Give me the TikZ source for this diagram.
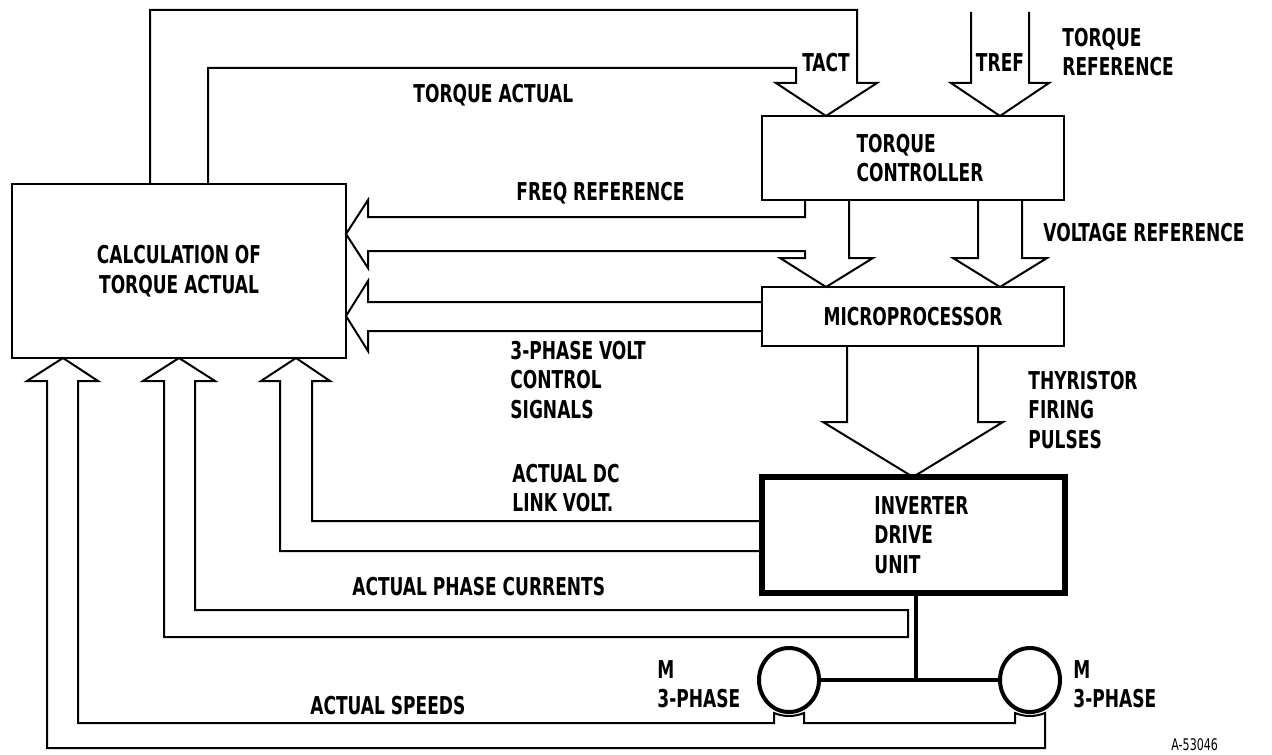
\documentclass[tikz,border=0pt]{standalone}
\usepackage{fontspec}
\setmainfont{DejaVu Sans Condensed}[FakeStretch=0.77]
\usetikzlibrary{shapes.geometric}
\tikzset{
  every picture/.style={line join=miter, x=0.5pt, y=-0.5pt},
  every node/.style={font=\bfseries\fontsize{12.3}{14.8}\selectfont},
  box/.style={draw, line width=1.4pt, inner sep=0pt, outer sep=0pt, align=center, anchor=north west},
  pipe/.style={line width=1pt},
  lbl/.style={anchor=west, align=left, inner sep=0pt},
  motor/.style={draw, ellipse, line width=2pt, inner sep=0pt, outer sep=0pt, minimum width=30pt, minimum height=32pt},
  link/.style={line width=1.6pt},
}

\begin{document}
\begin{tikzpicture}
\useasboundingbox (0,0) rectangle (1272,754);
% blocks
\node[box, minimum width=167pt, minimum height=87pt] (calc) at (12,184) {CALCULATION OF\\TORQUE ACTUAL};
\node[box, minimum width=151pt, minimum height=42pt, align=left] (torq) at (762,116) {\hspace*{7pt}TORQUE\\\hspace*{7pt}CONTROLLER};
\node[box, minimum width=151pt, minimum height=29.5pt] (micro) at (762,287) {MICROPROCESSOR};
\node[box, line width=2.8pt, minimum width=151.5pt, minimum height=58pt, align=left] (inv) at (762,477) {\hspace*{8pt}INVERTER\\\hspace*{8pt}DRIVE\\\hspace*{8pt}UNIT};
\node[motor] (m1) at (789,680) {};
\node[motor] (m2) at (1030,680) {};

% wide arrows
\draw[pipe] (calc.north -| 150,0) |- (857,10) -- (857,83) -- (877,83) -- (826,0 |- torq.north) -- (776,83) -- (796,83) |- (208,68) -- (calc.north -| 208,0);
\draw[pipe] (971,12) -- (971,83) -- (951,83) -- (1000,0 |- torq.north) -- (1049,83) -- (1029,83) -- (1029,12);
\draw[pipe] (805,0 |- torq.south) -- (805,217) -- (368,217) -- (368,200) -- (calc.east |- 0,234) -- (368,268) -- (368,251) -- (805,251) -- (805,258) -- (780,258) -- (826,0 |- micro.north) -- (873,258) -- (849,258) -- (849,0 |- torq.south);
\draw[pipe] (978,0 |- torq.south) -- (978,258) -- (953,258) -- (1000,0 |- micro.north) -- (1047,258) -- (1022,258) -- (1022,0 |- torq.south);
\draw[pipe] (micro.west |- 0,302) -- (368,302) -- (368,281) -- (calc.east |- 0,316) -- (368,351) -- (368,331) -- (micro.west |- 0,331);
\draw[pipe] (847,0 |- micro.south) -- (847,422) -- (823,422) -- (913,0 |- inv.north) -- (1003,422) -- (978,422) -- (978,0 |- micro.south);
\draw[pipe] (inv.west |- 0,521) -- (312,521) -- (312,381) -- (330,381) -- (296,0 |- calc.south) -- (261,381) -- (280,381) |- (inv.west |- 0,551);
\draw[pipe] (195,381) -- (195,610) -| (908,637) -- (164,637) -- (164,381) -- (143,381) -- (179,0 |- calc.south) -- (215,381) -- cycle;
\draw[pipe] (78,381) |- (774,723) -- (774,713) .. controls (784,717) and (794,717) .. (804,713) -- (804,723) -- (1015,723) -- (1015,713) .. controls (1025,717) and (1035,717) .. (1045,713) |- (47,748) -- (47,381) -- (27,381) -- (63,0 |- calc.south) -- (98,381) -- cycle;

% motor feed
\draw[link] (inv.south -| 916,0) -- (916,0 |- m1.east);
\draw[link] (m1.east) -- (m2.west);

% labels
\node[lbl] (lta) at (413,95) {TORQUE ACTUAL};
\node (ltact) at (826,63) {TACT};
\node (ltref) at (1000,63) {TREF};
\node[lbl] (ltr) at (1062,52) {TORQUE\\REFERENCE};
\node[lbl] (lfr) at (516,193) {FREQ REFERENCE};
\node[lbl] (lvr) at (1043,233) {VOLTAGE REFERENCE};
\node[lbl] (lvc) at (510,380) {3-PHASE VOLT\\CONTROL\\SIGNALS};
\node[lbl] (lth) at (1028,410) {THYRISTOR\\FIRING\\PULSES};
\node[lbl] (ldc) at (512,488) {ACTUAL DC\\LINK VOLT.};
\node[lbl] (lpc) at (352,587) {ACTUAL PHASE CURRENTS};
\node[lbl] (lsp) at (310,706) {ACTUAL SPEEDS};
\node[lbl] (lm1) at (657,684) {M\\3-PHASE};
\node[lbl] (lm2) at (1073,684) {M\\3-PHASE};
\node[lbl, font=\fontsize{8}{9}\selectfont] (fig) at (1171,745) {A-53046};
\end{tikzpicture}
\end{document}
